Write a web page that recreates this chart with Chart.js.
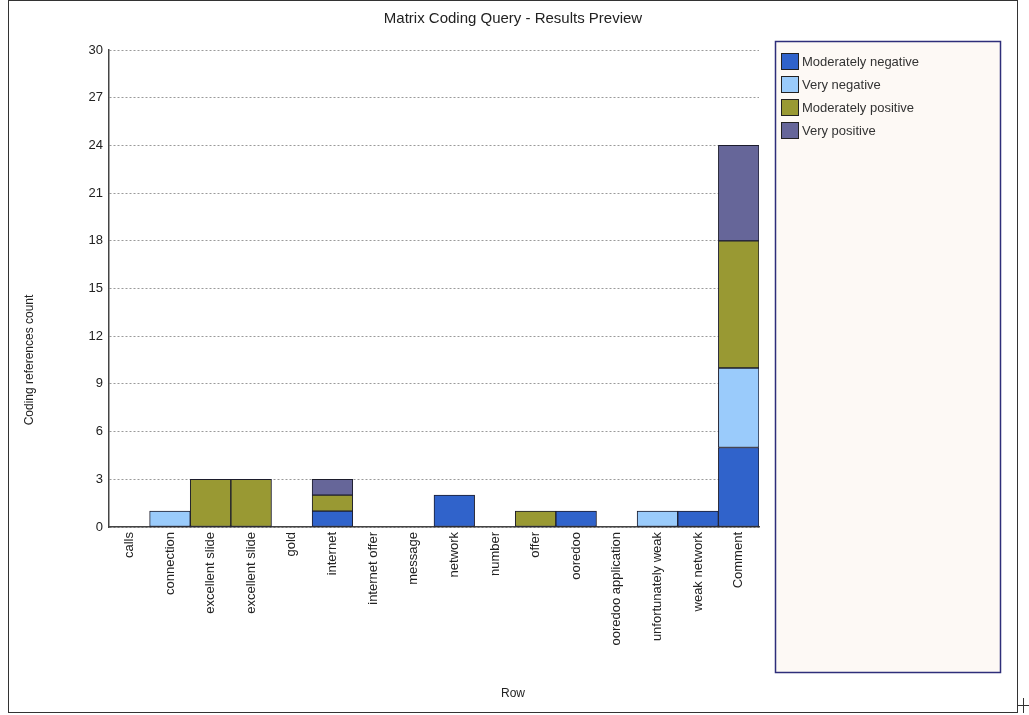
<!DOCTYPE html>
<html lang="en">
<head>
  <meta charset="UTF-8" />
  <script src="https://cdn.jsdelivr.net/npm/chart.js"></script>
  <style>
    body { margin: 0; background: #fff; }
    canvas { display: block; }
  </style>
</head>
<body>
  <canvas id="matrixChart" width="1029" height="715"></canvas>

  <script>
    const rows = ['calls', 'connection', 'excellent slide', 'excellent slide', 'gold', 'internet',
      'internet offer', 'message', 'network', 'number', 'offer', 'ooredoo',
      'ooredoo application', 'unfortunately weak', 'weak network', 'Comment'];
    const moderatelyNegative = [0, 0, 0, 0, 0, 1, 0, 0, 2, 0, 0, 1, 0, 0, 1, 5];
    const veryNegative       = [0, 1, 0, 0, 0, 0, 0, 0, 0, 0, 0, 0, 0, 1, 0, 5];
    const moderatelyPositive = [0, 0, 3, 3, 0, 1, 0, 0, 0, 0, 1, 0, 0, 0, 0, 8];
    const veryPositive       = [0, 0, 0, 0, 0, 1, 0, 0, 0, 0, 0, 0, 0, 0, 0, 6];
    const yTicks = [0, 3, 6, 9, 12, 15, 18, 21, 24, 27, 30];

    const FONT = '"Liberation Sans", Arial, sans-serif';

    // frame, titles, legend box and the little cross at the bottom right
    const framePlugin = {
      id: 'frame',
      beforeDraw(chart) {
        const ctx = chart.ctx;
        ctx.save();
        ctx.fillStyle = '#fff';
        ctx.fillRect(0, 0, chart.width, chart.height);
        ctx.strokeStyle = '#333';
        ctx.lineWidth = 1;
        ctx.strokeRect(8.5, 0.5, 1009, 712);
        ctx.beginPath();
        ctx.moveTo(1018, 705.5); ctx.lineTo(1029, 705.5);
        ctx.moveTo(1023.5, 698); ctx.lineTo(1023.5, 713);
        ctx.stroke();

        ctx.fillStyle = '#fdf9f5';
        ctx.fillRect(775, 41, 226, 632);
        ctx.strokeStyle = '#2e2e7a';
        ctx.lineWidth = 1.5;
        ctx.strokeRect(775.5, 41.5, 225, 631);

        ctx.fillStyle = '#222';
        ctx.textAlign = 'center';
        ctx.textBaseline = 'middle';
        ctx.font = '15px ' + FONT;
        ctx.fillText('Matrix Coding Query - Results Preview', 513, 19);
        ctx.font = '12px ' + FONT;
        ctx.fillText('Row', 513, 694);
        ctx.translate(30, 360);
        ctx.rotate(-Math.PI / 2);
        ctx.fillText('Coding references count', 0, 0);
        ctx.restore();
      },
      afterDraw(chart) {
        const ctx = chart.ctx;
        ctx.save();
        ctx.font = '13px ' + FONT;
        ctx.textBaseline = 'middle';
        chart.data.datasets.forEach((ds, i) => {
          const y = 53 + i * 23;
          ctx.fillStyle = ds.backgroundColor;
          ctx.fillRect(781, y, 18, 17);
          ctx.strokeStyle = '#222';
          ctx.lineWidth = 1;
          ctx.strokeRect(781.5, y + 0.5, 17, 16);
          ctx.fillStyle = '#333';
          ctx.fillText(ds.label, 802, y + 9);
        });
        ctx.restore();
      }
    };

    new Chart(document.getElementById('matrixChart'), {
      type: 'bar',
      data: {
        labels: rows,
        datasets: [
          { label: 'Moderately negative', data: moderatelyNegative, backgroundColor: '#3063cb' },
          { label: 'Very negative', data: veryNegative, backgroundColor: '#9acbfb' },
          { label: 'Moderately positive', data: moderatelyPositive, backgroundColor: '#999933' },
          { label: 'Very positive', data: veryPositive, backgroundColor: '#666699' },
        ].map(ds => ({ ...ds, borderColor: '#1c1c2c', borderWidth: 1, borderSkipped: false,
          barPercentage: 1, categoryPercentage: 1 })),
      },
      options: {
        responsive: false,
        animation: false,
        layout: { padding: { left: 21, right: 270, top: 50, bottom: 8 } },
        plugins: {
          legend: { display: false },
          tooltip: { enabled: false },
        },
        scales: {
          x: {
            stacked: true,
            grid: { display: false, drawTicks: false },
            border: { color: '#444', width: 1.5 },
            ticks: {
              autoSkip: false, minRotation: 90, maxRotation: 90, padding: 5,
              color: '#222', font: { family: FONT, size: 13 },
            },
            afterFit: s => { s.height = 715 - 527 - 8; },
          },
          y: {
            stacked: true,
            min: 0, max: 30,
            afterBuildTicks: s => { s.ticks = yTicks.map(v => ({ value: v })); },
            grid: { color: '#9a9a9a', drawTicks: false, lineWidth: 1 },
            border: { color: '#444', width: 1.5, dash: [2, 2] },
            ticks: { padding: 6, color: '#222', font: { family: FONT, size: 13 } },
            afterFit: s => { s.width = 109 - 21; },
          },
        },
      },
      plugins: [framePlugin],
    });
  </script>
</body>
</html>
